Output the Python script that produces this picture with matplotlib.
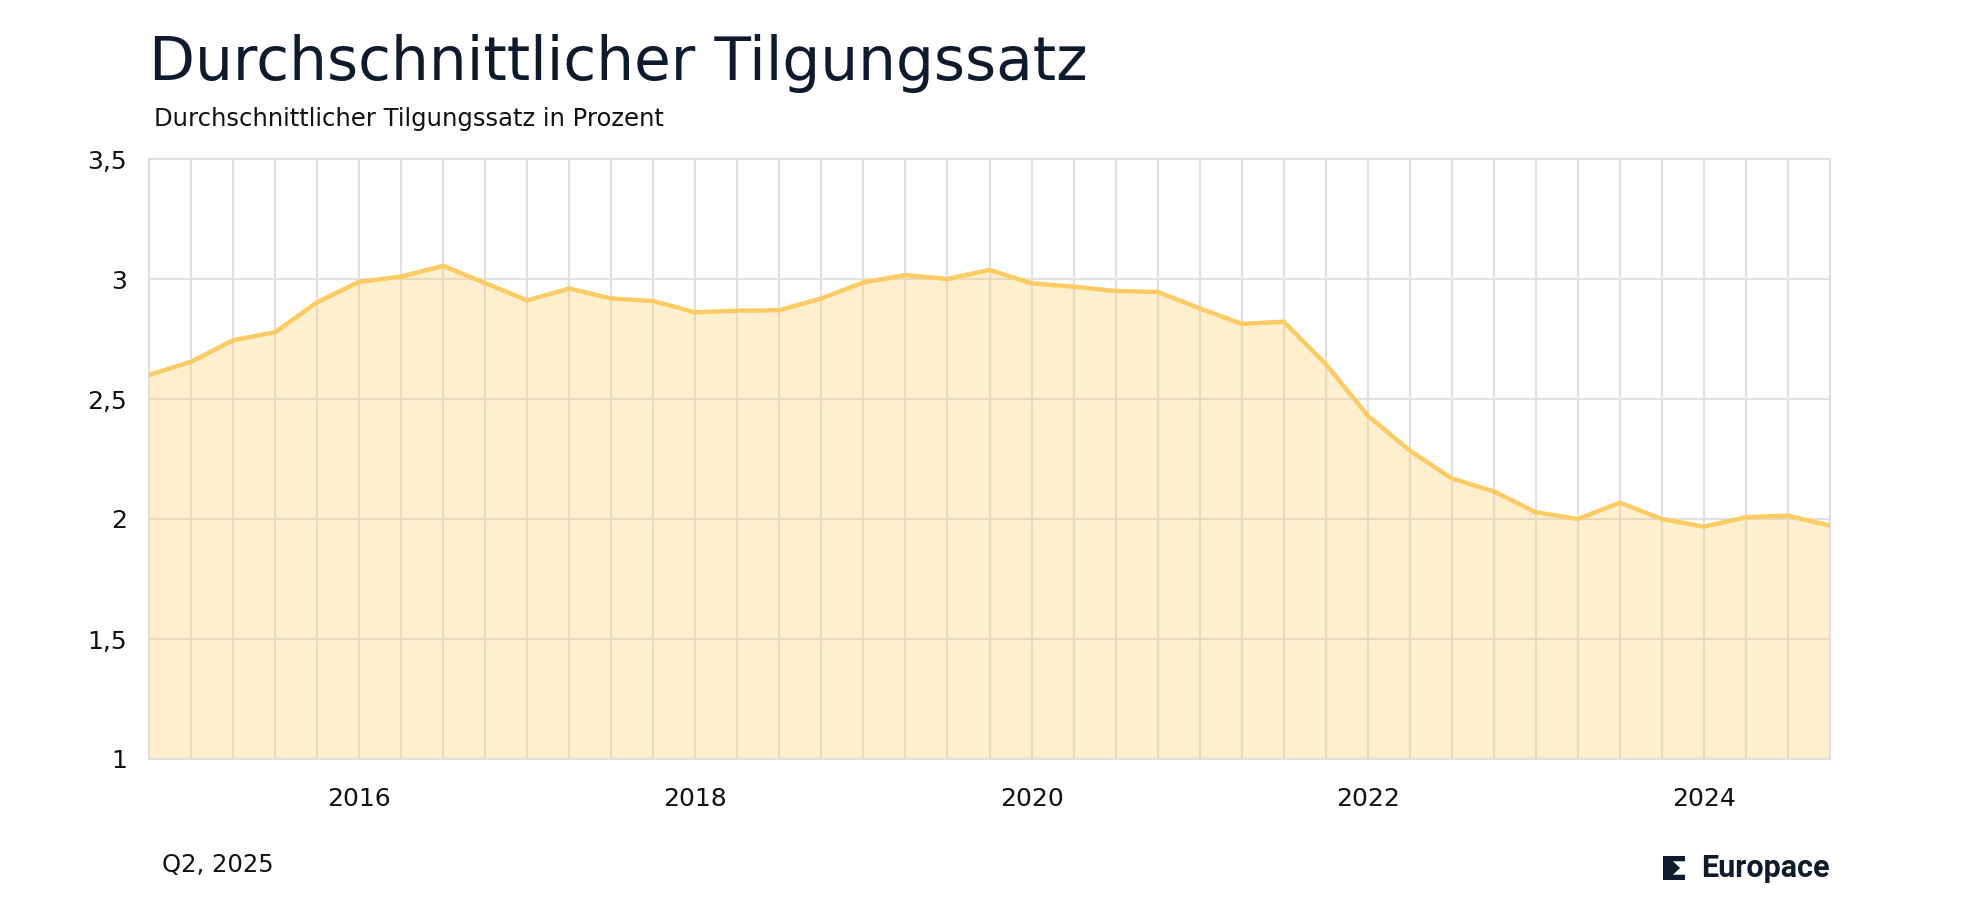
import matplotlib
matplotlib.use('Agg')
import matplotlib.pyplot as plt
from matplotlib.patches import Polygon
import numpy as np

# Quarterly values, Q4 2014 .. Q4 2024 (decimal year positions)
quarters = np.arange(2014.75, 2024.76, 0.25)
tilgung = [2.60, 2.655, 2.745, 2.778, 2.903, 2.988, 3.010, 3.055, 2.983, 2.911,
           2.960, 2.919, 2.908, 2.861, 2.868, 2.870, 2.919, 2.986, 3.016, 3.000,
           3.038, 2.982, 2.968, 2.950, 2.946, 2.878, 2.813, 2.822, 2.646, 2.431,
           2.285, 2.169, 2.115, 2.028, 2.000, 2.068, 2.000, 1.968, 2.007, 2.014,
           1.972]
year_ticks = [2016, 2018, 2020, 2022, 2024]
y_ticks = [1, 1.5, 2, 2.5, 3, 3.5]
y_labels = ['1', '1,5', '2', '2,5', '3', '3,5']

title = 'Durchschnittlicher Tilgungssatz'
subtitle = 'Durchschnittlicher Tilgungssatz in Prozent'
footer = 'Q2, 2025'

dark = '#0f1b2d'
line_col = '#fdcb63'
grid_col = '#e0e0e0'

plt.rcParams['font.family'] = ['DejaVu Sans']

fig = plt.figure(figsize=(19.8, 9), dpi=100)
ax = fig.add_axes([149 / 1980, 1 - 759 / 900, (1830 - 149) / 1980, (759 - 159) / 900])

ax.fill_between(quarters, tilgung, 1, color=line_col, alpha=0.3, linewidth=0, zorder=2)
ax.plot(quarters, tilgung, color=line_col, linewidth=3.2, zorder=3, solid_joinstyle='miter')

ax.set_xlim(2014.75, 2024.75)
ax.set_ylim(1, 3.5)
ax.set_xticks(year_ticks)
ax.set_xticklabels([str(y) for y in year_ticks])
ax.set_xticks(quarters, minor=True)
ax.set_yticks(y_ticks)
ax.set_yticklabels(y_labels)
ax.tick_params(axis='both', which='both', length=0, labelsize=18, colors='#111111')
ax.tick_params(axis='x', pad=20)
ax.tick_params(axis='y', pad=16)
ax.grid(True, which='both', color=grid_col, linewidth=1.5, zorder=1)
ax.set_axisbelow(True)
for sp in ax.spines.values():
    sp.set_color(grid_col)
    sp.set_linewidth(1.5)

fig.text(149 / 1980, 1 - 80 / 900, title, fontsize=43, color=dark, va='baseline', ha='left')
fig.text(154 / 1980, 1 - 126 / 900, subtitle, fontsize=17.5, color='#111111', va='baseline', ha='left')
fig.text(162 / 1980, 1 - 865 / 900, footer, fontsize=17.5, color='#111111', va='center', ha='left')

# Europace logo: small dark mark + wordmark
lx0, ly0, lw, lh = 1663 / 1980, 1 - 880 / 900, 22 / 1980, 24 / 900
pts = [(0, 0), (1, 0), (1, 0.22), (0.45, 0.22), (0.78, 0.5), (0.45, 0.78),
       (1, 0.78), (1, 1), (0, 1)]
logo = Polygon([(lx0 + px * lw, ly0 + py * lh) for px, py in pts], closed=True,
               facecolor=dark, edgecolor='none', transform=fig.transFigure)
fig.patches.append(logo)
fig.text(1830 / 1980, 1 - 868 / 900, 'Europace', fontsize=22, fontweight='bold',
         family='Roboto', color=dark, va='center', ha='right')

fig.savefig('out.png', dpi=100)
